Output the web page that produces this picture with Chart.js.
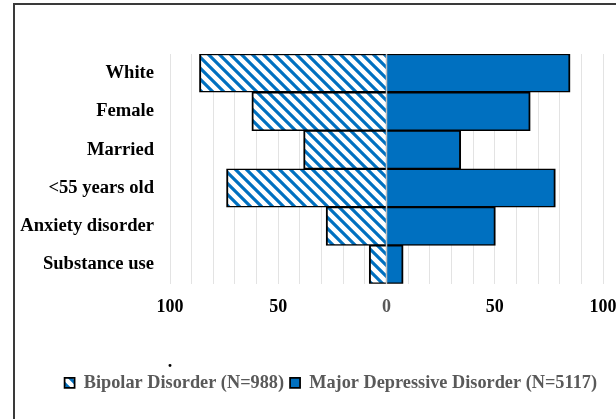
<!DOCTYPE html>
<html>
<head>
<meta charset="utf-8">
<script src="https://cdn.jsdelivr.net/npm/chart.js@4"></script>
<style>
    html, body { margin: 0; padding: 0; background: #fff; overflow: hidden; }
    #wrap { position: relative; width: 616px; height: 419px; overflow: hidden; }
    #frame { position: absolute; left: 13px; top: 3px; width: 700px; height: 500px; border: 2px solid #3a3a3a; box-sizing: border-box; }
    #chart { position: absolute; left: 0; top: 0; }
</style>
</head>
<body>
<div id="wrap">
    <div id="frame"></div>
    <canvas id="chart" width="616" height="419"></canvas>
</div>
<script>
(function () {
    'use strict';

    var CATEGORIES = ['White', 'Female', 'Married', '<55 years old', 'Anxiety disorder', 'Substance use'];
    var BIPOLAR = [86.4, 62.2, 38.3, 73.9, 27.9, 8.0];
    var MDD = [84.8, 66.4, 34.3, 78.0, 50.3, 7.7];
    var SERIES_NAMES = ['Bipolar Disorder (N=988)', 'Major Depressive Disorder (N=5117)'];
    var X_MIN = -100;
    var X_MAX = 100;
    var X_STEP = 10;
    var LABEL_EVERY = 50;

    var BLUE = '#0070C0';
    var FONT_FAMILY = '"Liberation Serif", "Times New Roman", serif';

    function hatchPattern(ctx) {
        var s = 11;
        var tile = document.createElement('canvas');
        tile.width = s;
        tile.height = s;
        var t = tile.getContext('2d');
        t.fillStyle = '#fff';
        t.fillRect(0, 0, s, s);
        t.strokeStyle = BLUE;
        t.lineWidth = 3.2;
        t.beginPath();
        t.moveTo(-1, -1);
        t.lineTo(s + 1, s + 1);
        t.moveTo(-2, s - 2);
        t.lineTo(2, s + 2);
        t.moveTo(s - 2, -2);
        t.lineTo(s + 2, 2);
        t.stroke();
        return ctx.createPattern(tile, 'repeat');
    }

    // zero line sits on top of the bars, plus the stray dot above the legend
    var overlay = {
        id: 'overlay',
        afterDatasetsDraw: function (chart) {
            var x = chart.scales.x;
            var px = x.getPixelForValue(0);
            var c = chart.ctx;
            c.save();
            c.strokeStyle = '#bfbfbf';
            c.lineWidth = 1.5;
            c.beginPath();
            c.moveTo(px, chart.chartArea.top);
            c.lineTo(px, chart.chartArea.bottom);
            c.stroke();
            c.restore();
        },
        afterDraw: function (chart) {
            var c = chart.ctx;
            c.save();
            c.fillStyle = '#000';
            c.font = 'bold 18px ' + FONT_FAMILY;
            c.textAlign = 'center';
            c.fillText('.', 170, 362);
            c.restore();
        }
    };

    var canvas = document.getElementById('chart');
    var ctx = canvas.getContext('2d');
    var hatch = hatchPattern(ctx);

    var barBorder = { left: 2, right: 2, top: 1.5, bottom: 1.5 };

    new Chart(canvas, {
        type: 'bar',
        data: {
            labels: CATEGORIES,
            datasets: [{
                label: SERIES_NAMES[0],
                data: BIPOLAR.map(function (v) { return -v; }),
                backgroundColor: hatch,
                borderColor: '#000',
                borderWidth: barBorder,
                categoryPercentage: 1,
                barPercentage: 1
            }, {
                label: SERIES_NAMES[1],
                data: MDD,
                backgroundColor: BLUE,
                borderColor: '#000',
                borderWidth: barBorder,
                categoryPercentage: 1,
                barPercentage: 1
            }]
        },
        options: {
            indexAxis: 'y',
            responsive: false,
            animation: false,
            layout: {
                padding: { left: 14, right: 13, top: 54, bottom: 17 }
            },
            plugins: {
                tooltip: { enabled: false },
                legend: {
                    position: 'bottom',
                    align: 'end',
                    labels: {
                        boxWidth: 10,
                        boxHeight: 10,
                        padding: 6,
                        color: '#595959',
                        font: { family: FONT_FAMILY, weight: 'bold', size: 18.3 }
                    }
                }
            },
            scales: {
                x: {
                    stacked: true,
                    min: X_MIN,
                    max: X_MAX,
                    border: { display: false },
                    grid: { color: '#e3e3e3', lineWidth: 1, drawTicks: false },
                    ticks: {
                        stepSize: X_STEP,
                        autoSkip: false,
                        maxRotation: 0,
                        padding: 13,
                        color: function (c) {
                            return c.tick && c.tick.value === 0 ? '#595959' : '#000';
                        },
                        font: { family: FONT_FAMILY, weight: 'bold', size: 18 },
                        callback: function (v) {
                            return v % LABEL_EVERY === 0 ? String(Math.abs(v)) : '';
                        }
                    },
                    afterFit: function (scale) {
                        scale.height = 84;
                        scale.paddingLeft = 0;
                        scale.paddingRight = 0;
                    }
                },
                y: {
                    stacked: true,
                    border: { display: false },
                    grid: { display: false, drawTicks: false },
                    ticks: {
                        padding: 16,
                        color: '#000',
                        font: { family: FONT_FAMILY, weight: 'bold', size: 18.6 }
                    },
                    afterFit: function (scale) {
                        scale.width = 156;
                    }
                }
            }
        },
        plugins: [overlay]
    });
})();
</script>
</body>
</html>
